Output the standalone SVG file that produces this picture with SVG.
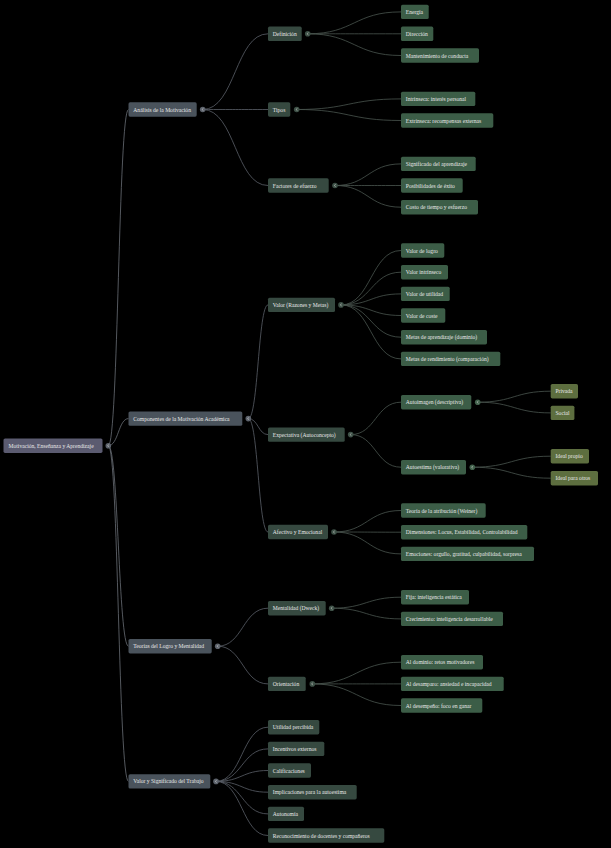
<svg xmlns="http://www.w3.org/2000/svg" width="611" height="848" viewBox="0 0 611 848">
<style>
text{font-family:"Liberation Serif","Times New Roman",serif;font-size:5.6px;fill:#e8e8e8;dominant-baseline:central}
rect{rx:1.6;ry:1.6}
.r rect{fill:#5b5b70}
.l1 rect{fill:#4a535c}
.l2 rect{fill:#364940}
.l3 rect{fill:#3c5d47}
.l4 rect{fill:#5d6e3f}
.c1{fill:#5d636c}
.c2{fill:#3d5046}
.c3{fill:#41614b}
.chev{fill:none;stroke:#d8d8d8;stroke-width:0.5}
.k1{fill:none;stroke:#6a6e76;stroke-width:0.8}
.k2{fill:none;stroke:#5b6068;stroke-width:0.8}
.k3{fill:none;stroke:#4a564f;stroke-width:0.8}
</style>
<rect x="0" y="0" width="611" height="848" fill="#000" rx="0" ry="0" style="rx:0;ry:0"/>
<g id="connectors">
<path class="k1" d="M108.3,445.7 C118.4,445.7 118.4,109.5 128.5,109.5"/>
<path class="k1" d="M108.3,445.7 C118.4,445.7 118.4,418.6 128.5,418.6"/>
<path class="k1" d="M108.3,445.7 C118.4,445.7 118.4,646.2 128.5,646.2"/>
<path class="k1" d="M108.3,445.7 C118.4,445.7 118.4,781.4 128.5,781.4"/>
<path class="k2" d="M202.7,109.5 C235.3,109.5 235.3,33.8 268,33.8"/>
<path class="k2" d="M202.7,109.5 C235.3,109.5 235.3,109.5 268,109.5"/>
<path class="k2" d="M202.7,109.5 C235.3,109.5 235.3,185.5 268,185.5"/>
<path class="k2" d="M248.3,418.6 C258.2,418.6 258.2,304.9 268,304.9"/>
<path class="k2" d="M248.3,418.6 C258.2,418.6 258.2,434.6 268,434.6"/>
<path class="k2" d="M248.3,418.6 C258.2,418.6 258.2,532 268,532"/>
<path class="k2" d="M217.7,646.2 C242.8,646.2 242.8,608.2 268,608.2"/>
<path class="k2" d="M217.7,646.2 C242.8,646.2 242.8,683.9 268,683.9"/>
<path class="k2" d="M216,781.4 C242,781.4 242,727.2 268,727.2"/>
<path class="k2" d="M216,781.4 C242,781.4 242,748.9 268,748.9"/>
<path class="k2" d="M216,781.4 C242,781.4 242,770.5 268,770.5"/>
<path class="k2" d="M216,781.4 C242,781.4 242,792.2 268,792.2"/>
<path class="k2" d="M216,781.4 C242,781.4 242,813.9 268,813.9"/>
<path class="k2" d="M216,781.4 C242,781.4 242,835.5 268,835.5"/>
<path class="k3" d="M307.7,33.8 C354.3,33.8 354.3,11.9 401,11.9"/>
<path class="k3" d="M307.7,33.8 C354.3,33.8 354.3,33.8 401,33.8"/>
<path class="k3" d="M307.7,33.8 C354.3,33.8 354.3,55.5 401,55.5"/>
<path class="k3" d="M296.7,109.5 C348.8,109.5 348.8,98.9 401,98.9"/>
<path class="k3" d="M296.7,109.5 C348.8,109.5 348.8,120.5 401,120.5"/>
<path class="k3" d="M335,185.5 C368,185.5 368,163.9 401,163.9"/>
<path class="k3" d="M335,185.5 C368,185.5 368,185.5 401,185.5"/>
<path class="k3" d="M335,185.5 C368,185.5 368,207.2 401,207.2"/>
<path class="k3" d="M341,304.9 C371,304.9 371,250.5 401,250.5"/>
<path class="k3" d="M341,304.9 C371,304.9 371,272.2 401,272.2"/>
<path class="k3" d="M341,304.9 C371,304.9 371,293.9 401,293.9"/>
<path class="k3" d="M341,304.9 C371,304.9 371,315.5 401,315.5"/>
<path class="k3" d="M341,304.9 C371,304.9 371,337.2 401,337.2"/>
<path class="k3" d="M341,304.9 C371,304.9 371,358.9 401,358.9"/>
<path class="k3" d="M350.7,434.6 C375.8,434.6 375.8,402.2 401,402.2"/>
<path class="k3" d="M350.7,434.6 C375.8,434.6 375.8,467.2 401,467.2"/>
<path class="k3" d="M334,532 C367.5,532 367.5,510.5 401,510.5"/>
<path class="k3" d="M334,532 C367.5,532 367.5,532.2 401,532.2"/>
<path class="k3" d="M334,532 C367.5,532 367.5,553.9 401,553.9"/>
<path class="k3" d="M331.7,608.2 C366.3,608.2 366.3,597.2 401,597.2"/>
<path class="k3" d="M331.7,608.2 C366.3,608.2 366.3,618.9 401,618.9"/>
<path class="k3" d="M312.3,683.9 C356.6,683.9 356.6,662.2 401,662.2"/>
<path class="k3" d="M312.3,683.9 C356.6,683.9 356.6,683.9 401,683.9"/>
<path class="k3" d="M312.3,683.9 C356.6,683.9 356.6,705.5 401,705.5"/>
<path class="k3" d="M477.7,402.2 C514.2,402.2 514.2,391.2 550.7,391.2"/>
<path class="k3" d="M477.7,402.2 C514.2,402.2 514.2,412.9 550.7,412.9"/>
<path class="k3" d="M472.3,467.2 C511.5,467.2 511.5,456.2 550.7,456.2"/>
<path class="k3" d="M472.3,467.2 C511.5,467.2 511.5,478.2 550.7,478.2"/>
</g>
<g id="root" class="r"><rect x="3.5" y="438.5" width="99" height="14.4"/><text x="8.5" y="445.7">Motivación, Enseñanza y Aprendizaje</text><circle class="c1" cx="108.3" cy="445.7" r="2.8"/><path class="chev" d="M109.1,444.5 L107.5,445.7 L109.1,446.9"/></g>
<g id="n-analisis" class="l1"><rect x="128.5" y="102.3" width="68.2" height="14.4"/><text x="133.3" y="109.5">Análisis de la Motivación</text><circle class="c1" cx="202.7" cy="109.5" r="2.8"/><path class="chev" d="M203.5,108.3 L201.9,109.5 L203.5,110.7"/></g>
<g id="n-componentes" class="l1"><rect x="128.5" y="411.4" width="113.8" height="14.4"/><text x="133.3" y="418.6">Componentes de la Motivación Académica</text><circle class="c1" cx="248.3" cy="418.6" r="2.8"/><path class="chev" d="M249.1,417.4 L247.5,418.6 L249.1,419.8"/></g>
<g id="n-teorias" class="l1"><rect x="128.5" y="639" width="83.2" height="14.4"/><text x="133.3" y="646.2">Teorías del Logro y Mentalidad</text><circle class="c1" cx="217.7" cy="646.2" r="2.8"/><path class="chev" d="M218.5,645 L216.9,646.2 L218.5,647.4"/></g>
<g id="n-valortrabajo" class="l1"><rect x="128.5" y="774.2" width="81.8" height="14.4"/><text x="133.3" y="781.4">Valor y Significado del Trabajo</text><circle class="c1" cx="216" cy="781.4" r="2.8"/><path class="chev" d="M216.8,780.2 L215.2,781.4 L216.8,782.6"/></g>
<g id="n-definicion" class="l2"><rect x="268" y="26.6" width="33.7" height="14.4"/><text x="272.8" y="33.8">Definición</text><circle class="c2" cx="307.7" cy="33.8" r="2.8"/><path class="chev" d="M308.5,32.6 L306.9,33.8 L308.5,35"/></g>
<g id="n-tipos" class="l2"><rect x="268" y="102.3" width="22.3" height="14.4"/><text x="272.8" y="109.5">Tipos</text><circle class="c2" cx="296.7" cy="109.5" r="2.8"/><path class="chev" d="M297.5,108.3 L295.9,109.5 L297.5,110.7"/></g>
<g id="n-factores" class="l2"><rect x="268" y="178.3" width="60.7" height="14.4"/><text x="272.8" y="185.5">Factores de efuerzo</text><circle class="c2" cx="335" cy="185.5" r="2.8"/><path class="chev" d="M335.8,184.3 L334.2,185.5 L335.8,186.7"/></g>
<g id="n-valor" class="l2"><rect x="268" y="297.7" width="67" height="14.4"/><text x="272.8" y="304.9">Valor (Razones y Metas)</text><circle class="c2" cx="341" cy="304.9" r="2.8"/><path class="chev" d="M341.8,303.7 L340.2,304.9 L341.8,306.1"/></g>
<g id="n-expectativa" class="l2"><rect x="268" y="427.4" width="76.7" height="14.4"/><text x="272.8" y="434.6">Expectativa (Autoconcepto)</text><circle class="c2" cx="350.7" cy="434.6" r="2.8"/><path class="chev" d="M351.5,433.4 L349.9,434.6 L351.5,435.8"/></g>
<g id="n-afectivo" class="l2"><rect x="268" y="524.8" width="60" height="14.4"/><text x="272.8" y="532">Afectivo y Emocional</text><circle class="c2" cx="334" cy="532" r="2.8"/><path class="chev" d="M334.8,530.8 L333.2,532 L334.8,533.2"/></g>
<g id="n-mentalidad" class="l2"><rect x="268" y="601" width="57.7" height="14.4"/><text x="272.8" y="608.2">Mentalidad (Dweck)</text><circle class="c2" cx="331.7" cy="608.2" r="2.8"/><path class="chev" d="M332.5,607 L330.9,608.2 L332.5,609.4"/></g>
<g id="n-orientacion" class="l2"><rect x="268" y="676.7" width="37.7" height="14.4"/><text x="272.8" y="683.9">Orientación</text><circle class="c2" cx="312.3" cy="683.9" r="2.8"/><path class="chev" d="M313.1,682.7 L311.5,683.9 L313.1,685.1"/></g>
<g id="n-utilidad" class="l2"><rect x="268" y="720" width="51.3" height="14.4"/><text x="272.8" y="727.2">Utilidad percibida</text></g>
<g id="n-incentivos" class="l2"><rect x="268" y="741.7" width="56.3" height="14.4"/><text x="272.8" y="748.9">Incentivos externos</text></g>
<g id="n-calificaciones" class="l2"><rect x="268" y="763.3" width="43" height="14.4"/><text x="272.8" y="770.5">Calificaciones</text></g>
<g id="n-implicaciones" class="l2"><rect x="268" y="785" width="88.7" height="14.4"/><text x="272.8" y="792.2">Implicaciones para la autoestima</text></g>
<g id="n-autonomia" class="l2"><rect x="268" y="806.7" width="36" height="14.4"/><text x="272.8" y="813.9">Autonomía</text></g>
<g id="n-reconocimiento" class="l2"><rect x="268" y="828.3" width="116.3" height="14.4"/><text x="272.8" y="835.5">Reconocimiento de docentes y compañeros</text></g>
<g id="n-energia" class="l3"><rect x="401" y="4.7" width="27.7" height="14.4"/><text x="405.8" y="11.9">Energía</text></g>
<g id="n-direccion" class="l3"><rect x="401" y="26.6" width="32.3" height="14.4"/><text x="405.8" y="33.8">Dirección</text></g>
<g id="n-mantenimiento" class="l3"><rect x="401" y="48.3" width="78" height="14.4"/><text x="405.8" y="55.5">Mantenimiento de conducta</text></g>
<g id="n-intrinseca" class="l3"><rect x="401" y="91.7" width="74.3" height="14.4"/><text x="405.8" y="98.9">Intrínseca: interés personal</text></g>
<g id="n-extrinseca" class="l3"><rect x="401" y="113.3" width="92.3" height="14.4"/><text x="405.8" y="120.5">Extrínseca: recompensas externas</text></g>
<g id="n-significado" class="l3"><rect x="401" y="156.7" width="74.7" height="14.4"/><text x="405.8" y="163.9">Significado del aprendizaje</text></g>
<g id="n-posibilidades" class="l3"><rect x="401" y="178.3" width="61.7" height="14.4"/><text x="405.8" y="185.5">Posibilidades de éxito</text></g>
<g id="n-costo" class="l3"><rect x="401" y="200" width="77" height="14.4"/><text x="405.8" y="207.2">Costo de tiempo y esfuerzo</text></g>
<g id="n-logro" class="l3"><rect x="401" y="243.3" width="43.3" height="14.4"/><text x="405.8" y="250.5">Valor de logro</text></g>
<g id="n-vintrinseco" class="l3"><rect x="401" y="265" width="47" height="14.4"/><text x="405.8" y="272.2">Valor intrínseco</text></g>
<g id="n-vutilidad" class="l3"><rect x="401" y="286.7" width="48.7" height="14.4"/><text x="405.8" y="293.9">Valor de utilidad</text></g>
<g id="n-coste" class="l3"><rect x="401" y="308.3" width="44.3" height="14.4"/><text x="405.8" y="315.5">Valor de coste</text></g>
<g id="n-metasap" class="l3"><rect x="401" y="330" width="86" height="14.4"/><text x="405.8" y="337.2">Metas de aprendizaje (dominio)</text></g>
<g id="n-metasrend" class="l3"><rect x="401" y="351.7" width="99.3" height="14.4"/><text x="405.8" y="358.9">Metas de rendimiento (comparación)</text></g>
<g id="n-autoimagen" class="l3"><rect x="401" y="395" width="70.3" height="14.4"/><text x="405.8" y="402.2">Autoimagen (descriptiva)</text><circle class="c3" cx="477.7" cy="402.2" r="2.8"/><path class="chev" d="M478.5,401 L476.9,402.2 L478.5,403.4"/></g>
<g id="n-autoestima" class="l3"><rect x="401" y="460" width="65" height="14.4"/><text x="405.8" y="467.2">Autoestima (valorativa)</text><circle class="c3" cx="472.3" cy="467.2" r="2.8"/><path class="chev" d="M473.1,466 L471.5,467.2 L473.1,468.4"/></g>
<g id="n-atribucion" class="l3"><rect x="401" y="503.3" width="84.7" height="14.4"/><text x="405.8" y="510.5">Teoría de la atribución (Weiner)</text></g>
<g id="n-dimensiones" class="l3"><rect x="401" y="525" width="126.3" height="14.4"/><text x="405.8" y="532.2">Dimensiones: Locus, Estabilidad, Controlabilidad</text></g>
<g id="n-emociones" class="l3"><rect x="401" y="546.7" width="133" height="14.4"/><text x="405.8" y="553.9">Emociones: orgullo, gratitud, culpabilidad, sorpresa</text></g>
<g id="n-fija" class="l3"><rect x="401" y="590" width="68" height="14.4"/><text x="405.8" y="597.2">Fija: inteligencia estática</text></g>
<g id="n-crecimiento" class="l3"><rect x="401" y="611.7" width="102" height="14.4"/><text x="405.8" y="618.9">Crecimiento: inteligencia desarrollable</text></g>
<g id="n-dominio" class="l3"><rect x="401" y="655" width="82" height="14.4"/><text x="405.8" y="662.2">Al dominio: retos motivadores</text></g>
<g id="n-desamparo" class="l3"><rect x="401" y="676.7" width="102.7" height="14.4"/><text x="405.8" y="683.9">Al desamparo: ansiedad e incapacidad</text></g>
<g id="n-desempeno" class="l3"><rect x="401" y="698.3" width="81.3" height="14.4"/><text x="405.8" y="705.5">Al desempeño: foco en ganar</text></g>
<g id="n-privada" class="l4"><rect x="550.7" y="384" width="27.3" height="14.4"/><text x="555.5" y="391.2">Privada</text></g>
<g id="n-social" class="l4"><rect x="550.7" y="405.7" width="23.7" height="14.4"/><text x="555.5" y="412.9">Social</text></g>
<g id="n-idealpropio" class="l4"><rect x="550.7" y="449" width="38.3" height="14.4"/><text x="555.5" y="456.2">Ideal propio</text></g>
<g id="n-idealotros" class="l4"><rect x="550.7" y="471" width="47.3" height="14.4"/><text x="555.5" y="478.2">Ideal para otros</text></g>
</svg>
